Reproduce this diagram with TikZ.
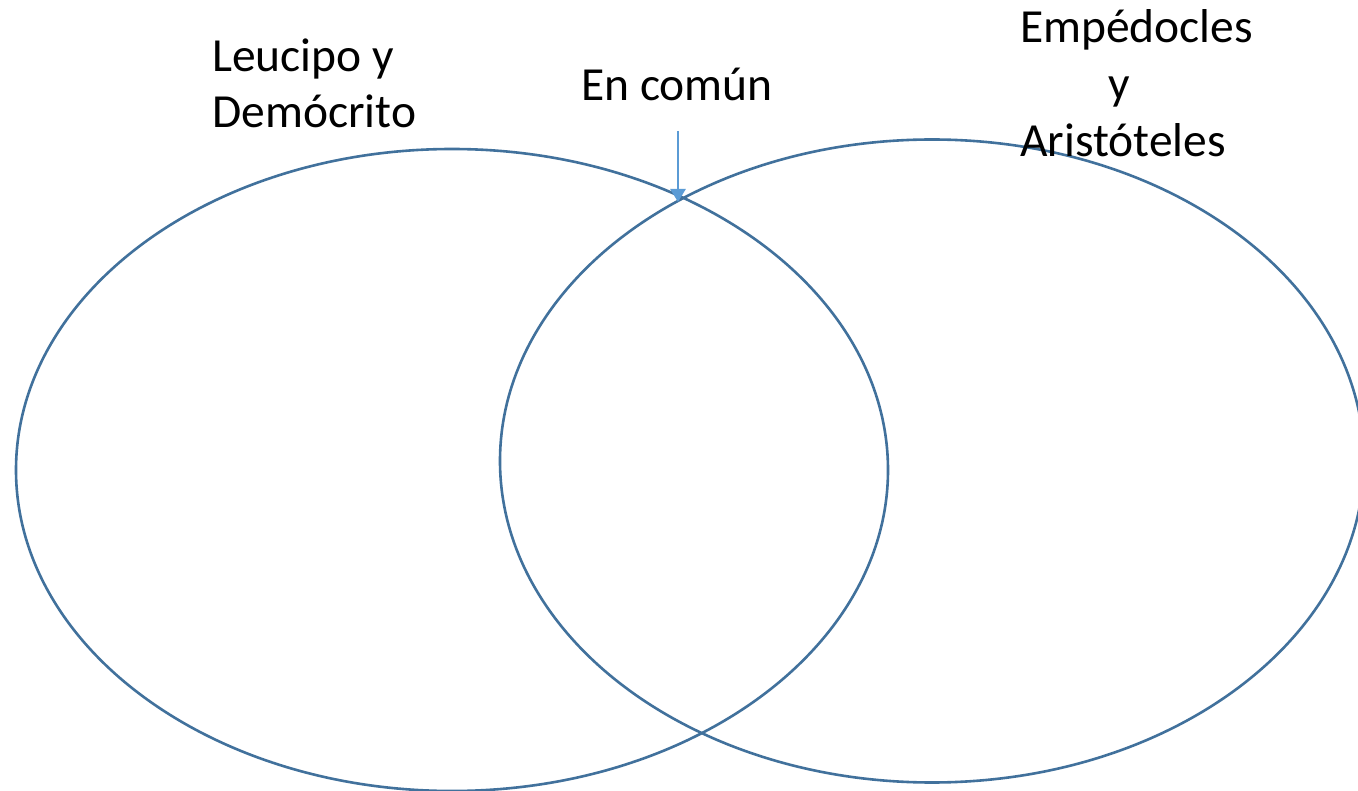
\documentclass[tikz,border=0pt]{standalone}
\usepackage{fontspec}
\setmainfont{Carlito}
\usetikzlibrary{arrows.meta,shapes.geometric}
\definecolor{ringblue}{HTML}{41719C}
\definecolor{arrowblue}{HTML}{5B9BD5}
\tikzset{
  ring/.style={draw=ringblue, line width=2.6pt, ellipse, inner sep=0pt},
  label/.style={font=\fontsize{47.5}{57}\selectfont, inner sep=0pt, anchor=base west, text=black},
  pointer/.style={draw=arrowblue, line width=2.6pt, -{Triangle[width=15pt,length=13pt]}}
}
\begin{document}
\begin{tikzpicture}[x=1pt,y=-1pt]
\useasboundingbox (0,0) rectangle (1358,791);
\clip (0,0) rectangle (1358,791);
\fill[white] (0,0) rectangle (1358,791);
\node[ring, minimum width=872pt, minimum height=642pt] (left) at (452,470) {};
\node[ring, minimum width=864pt, minimum height=643pt] (right) at (932,461) {};
\node[label] (lt1) at (212,72) {Leucipo y};
\node[label] (lt2) at (212,128) {Demócrito};
\node[label] (common) at (581,101) {En común};
\node[label] (rt1) at (1020,43) {Empédocles};
\node[label] (rt2) at (1108,100) {y};
\node[label] (rt3) at (1020,157) {Aristóteles};
\coordinate (astart) at (678,131);
\coordinate (aend) at (678,202);
\draw[pointer] (astart) -- (aend);
\end{tikzpicture}
\end{document}
